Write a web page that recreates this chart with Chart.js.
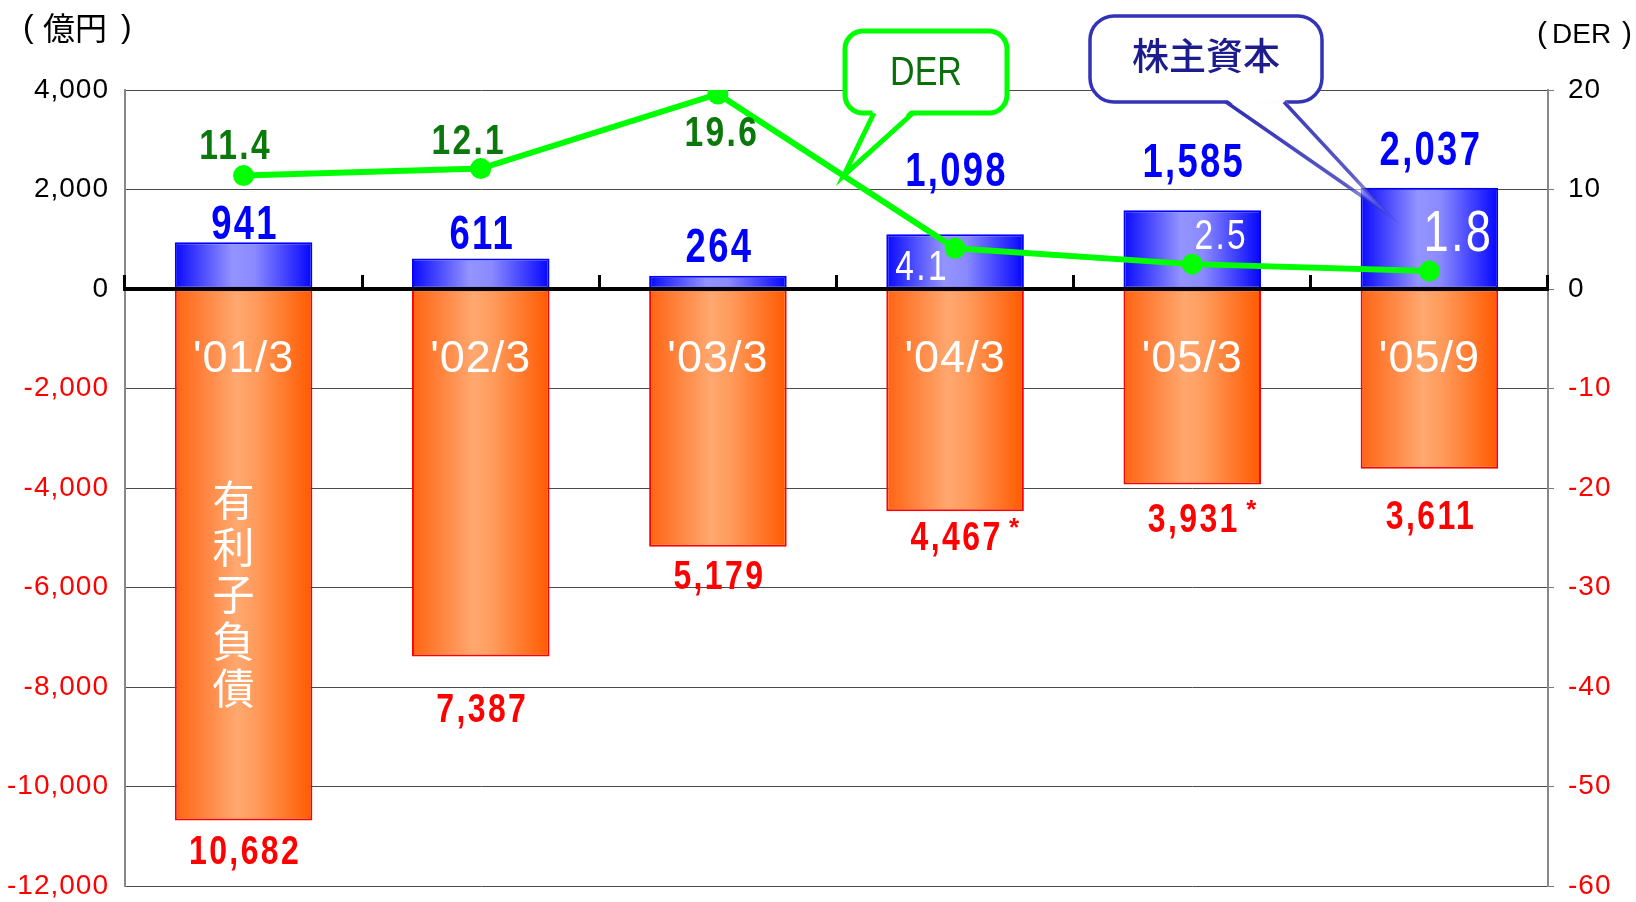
<!DOCTYPE html>
<html lang="ja">
<head>
<meta charset="utf-8">
<script src="https://cdn.jsdelivr.net/npm/chart.js@4.4.1/dist/chart.umd.min.js"></script>
<style>
  html, body { margin: 0; padding: 0; background: #fff; }
  #wrap { width: 1636px; height: 902px; }
</style>
</head>
<body>
<div id="wrap"><canvas id="derChart"></canvas></div>
<script>
// data
const categories = ["'01/3", "'02/3", "'03/3", "'04/3", "'05/3", "'05/9"];
const equity = [941, 611, 264, 1098, 1585, 2037];
const debt = [-10682, -7387, -5179, -4467, -3931, -3611];
const debtNotes = ["", "", "", "*", "*", ""];
const der = [11.4, 12.1, 19.6, 4.1, 2.5, 1.8];
const yenTicks = [4000, 2000, 0, -2000, -4000, -6000, -8000, -10000, -12000];
const derTicks = [20, 10, 0, -10, -20, -30, -40, -50, -60];

const SANS = "'Liberation Sans', Arial, sans-serif";
const CJK = "'Noto Sans CJK JP', sans-serif";
const BAR_PCT = 0.58;

// horizontal shading across each bar
const shade = (stops) => (c) => {
  const xs = c.chart.scales.x;
  const fallback = stops[1][1];
  if (!xs || c.dataIndex === undefined) return fallback;
  const cx = xs.getPixelForValue(c.dataIndex);
  const half = (xs.width / categories.length) * BAR_PCT / 2;
  if (!isFinite(cx) || !isFinite(half) || half <= 0) return fallback;
  const g = c.chart.ctx.createLinearGradient(cx - half, 0, cx + half, 0);
  stops.forEach(([o, col]) => g.addColorStop(o, col));
  return g;
};

const blueStops = [[0, "#0a0aff"], [0.42, "#9494ff"], [0.58, "#8a8aff"], [1, "#0505ff"]];
const orangeStops = [[0, "#ff6412"], [0.45, "#ffa870"], [0.6, "#ff9a5a"], [1, "#ff5a00"]];

const fmt = (v) => Math.abs(v).toLocaleString("en-US");

// text squeezed sideways, the chart uses a narrow face
const squeeze = (ctx, text, x, y, sx) => {
  ctx.save();
  ctx.translate(x, y);
  ctx.scale(sx, 1);
  ctx.fillText(text, 0, 0);
  ctx.restore();
};

// value labels on bars and line
const valueLabels = {
  id: "valueLabels",
  afterDatasetsDraw(chart, args, opts) {
    const { ctx } = chart;
    const eq = chart.getDatasetMeta(0).data;
    const dt = chart.getDatasetMeta(1).data;
    const ln = chart.getDatasetMeta(2).data;
    ctx.save();
    ctx.textAlign = "center";
    ctx.textBaseline = "alphabetic";
    ctx.letterSpacing = "3px";

    ctx.font = `bold 48px ${SANS}`;
    ctx.fillStyle = "#0000ff";
    eq.forEach((bar, i) => {
      squeeze(ctx, fmt(equity[i]), bar.x + 1.5, bar.y - opts.equityGap[i], 0.76);
    });

    ctx.font = `bold 40px ${SANS}`;
    ctx.fillStyle = "#ff0000";
    dt.forEach((bar, i) => {
      const y = bar.y + opts.debtGap[i] + 29;
      const txt = fmt(debt[i]);
      squeeze(ctx, txt, bar.x + 1.5, y, 0.8);
      if (debtNotes[i]) {
        const w = ctx.measureText(txt).width * 0.8;
        ctx.save();
        ctx.font = `bold 26px ${SANS}`;
        ctx.textAlign = "left";
        ctx.fillText(debtNotes[i], bar.x + w / 2 + 8, y - 14);
        ctx.restore();
      }
    });

    ctx.textBaseline = "middle";
    ln.forEach((pt, i) => {
      const [dx, dy] = opts.derOffset[i];
      const white = opts.derColor[i] === "#fff";
      ctx.font = `${white ? "" : "bold "}${opts.derSize[i]}px ${SANS}`;
      ctx.fillStyle = opts.derColor[i];
      squeeze(ctx, der[i].toFixed(1), pt.x + dx, pt.y + dy, 0.78);
    });
    ctx.restore();
  }
};

// callouts, vertical caption and unit labels
const callouts = {
  id: "callouts",
  beforeDraw(chart) {
    chart.ctx.letterSpacing = "1px";
  },
  afterDraw(chart) {
    const { ctx } = chart;
    const ln = chart.getDatasetMeta(2).data;
    const firstDebt = chart.getDatasetMeta(1).data[0];
    ctx.save();
    ctx.letterSpacing = "0px";

    // DER callout
    const tip = {
      x: ln[2].x + (ln[3].x - ln[2].x) * 0.53,
      y: ln[2].y + (ln[3].y - ln[2].y) * 0.53
    };
    ctx.lineWidth = 5;
    ctx.strokeStyle = "#00ff00";
    ctx.fillStyle = "#fff";
    ctx.beginPath();
    ctx.roundRect(845, 31, 162, 82, 18);
    ctx.fill();
    ctx.stroke();
    ctx.beginPath();
    ctx.moveTo(874, 108);
    ctx.lineTo(tip.x, tip.y);
    ctx.lineTo(913, 108);
    ctx.closePath();
    ctx.fill();
    ctx.beginPath();
    ctx.moveTo(874, 113);
    ctx.lineTo(tip.x, tip.y);
    ctx.lineTo(913, 113);
    ctx.stroke();
    ctx.fillStyle = "#0a6e0a";
    ctx.font = `40px ${SANS}`;
    ctx.textAlign = "center";
    ctx.textBaseline = "middle";
    squeeze(ctx, "DER", 926, 74, 0.85);

    // 株主資本 callout
    const tip2 = { x: 1389, y: 215 };
    ctx.lineWidth = 3.5;
    ctx.strokeStyle = "#3333b8";
    ctx.fillStyle = "#fff";
    ctx.beginPath();
    ctx.roundRect(1090, 16, 232, 86, 24);
    ctx.fill();
    ctx.stroke();
    const fade = ctx.createLinearGradient(1255, 102, tip2.x, tip2.y);
    fade.addColorStop(0, "rgba(255,255,255,1)");
    fade.addColorStop(0.6, "rgba(255,255,255,0.9)");
    fade.addColorStop(1, "rgba(255,255,255,0)");
    ctx.fillStyle = fade;
    ctx.beginPath();
    ctx.moveTo(1226, 99);
    ctx.lineTo(tip2.x, tip2.y);
    ctx.lineTo(1284, 99);
    ctx.closePath();
    ctx.fill();
    const edge = ctx.createLinearGradient(1255, 102, tip2.x, tip2.y);
    edge.addColorStop(0, "rgba(51,51,184,1)");
    edge.addColorStop(0.7, "rgba(51,51,184,0.8)");
    edge.addColorStop(1, "rgba(51,51,184,0.2)");
    ctx.strokeStyle = edge;
    ctx.beginPath();
    ctx.moveTo(1226, 102);
    ctx.lineTo(tip2.x, tip2.y);
    ctx.lineTo(1284, 102);
    ctx.stroke();
    ctx.fillStyle = "#1c1c8c";
    ctx.font = `500 37px ${CJK}`;
    ctx.fillText("株主資本", 1206, 56);

    // vertical caption in the first debt bar
    ctx.fillStyle = "#fff";
    ctx.font = `42px ${CJK}`;
    [..."有利子負債"].forEach((ch, i) => {
      ctx.fillText(ch, firstDebt.x - 10, 500 + i * 47);
    });

    // unit labels
    ctx.fillStyle = "#000";
    ctx.textAlign = "left";
    ctx.font = `32px ${SANS}`;
    ctx.fillText("(", 23, 28);
    ctx.fillText(")", 121, 28);
    ctx.font = `32px ${CJK}`;
    ctx.fillText("億円", 43, 28);
    ctx.font = `30px ${SANS}`;
    ctx.fillText("(", 1537, 35);
    ctx.fillText(")", 1622, 35);
    ctx.font = `28px ${SANS}`;
    ctx.fillText("DER", 1552, 35);
    ctx.restore();
  }
};

const config = {
  data: {
    labels: categories,
    datasets: [
      {
        type: "bar",
        label: "株主資本",
        data: equity,
        backgroundColor: shade(blueStops),
        borderColor: "#0000ff",
        borderWidth: 2,
        borderSkipped: false,
        order: 2,
        yAxisID: "y"
      },
      {
        type: "bar",
        label: "有利子負債",
        data: debt,
        backgroundColor: shade(orangeStops),
        borderColor: "#ff0000",
        borderWidth: 2,
        borderSkipped: false,
        order: 2,
        yAxisID: "y"
      },
      {
        type: "line",
        label: "DER",
        data: der,
        borderColor: "#00ff00",
        backgroundColor: "#00ff00",
        borderWidth: 6,
        pointRadius: 10.5,
        pointBorderWidth: 0,
        tension: 0,
        order: 0,
        yAxisID: "y1"
      }
    ]
  },
  options: {
    responsive: true,
    maintainAspectRatio: false,
    animation: false,
    layout: { padding: { top: 90, bottom: 16, left: 0, right: 0 } },
    datasets: {
      bar: { grouped: false, barPercentage: BAR_PCT, categoryPercentage: 1 }
    },
    plugins: {
      legend: { display: false },
      tooltip: { enabled: false },
      valueLabels: {
        equityGap: [3, 10, 14, 48, 33, 23],
        debtGap: [15, 36, 13, 10, 18, 31],
        derOffset: [[-8, -28], [-12, -26], [4, 40], [-33, 20], [29, -27], [29, -36]],
        derSize: [43, 43, 43, 43, 43, 58],
        derColor: ["#0b780b", "#0b780b", "#0b780b", "#fff", "#fff", "#fff"]
      }
    },
    scales: {
      x: {
        position: { y: 0 },
        offset: true,
        grid: {
          display: true,
          drawOnChartArea: false,
          offset: true,
          tickLength: -16,
          tickWidth: 3,
          tickColor: "#000",
          z: 1
        },
        border: { display: true, color: "#000", width: 4, z: 1 },
        ticks: {
          color: "#fff",
          font: { family: SANS, size: 45 },
          padding: 60,
          maxRotation: 0,
          autoSkip: false,
          z: 1
        }
      },
      y: {
        position: "left",
        min: -12000,
        max: 4000,
        afterBuildTicks: (s) => { s.ticks = yenTicks.map((value) => ({ value })); },
        afterFit: (s) => { s.width = 125; s.paddingTop = 0; s.paddingBottom = 0; },
        grid: { color: "#4a4a4a", lineWidth: 1, drawTicks: false },
        border: { color: "#888", width: 2 },
        ticks: {
          font: { family: SANS, size: 28 },
          color: (c) => (c.tick && c.tick.value < 0 ? "#ff0000" : "#000"),
          padding: 16,
          callback: (v) => v.toLocaleString("en-US")
        }
      },
      y1: {
        position: "right",
        min: -60,
        max: 20,
        afterBuildTicks: (s) => { s.ticks = derTicks.map((value) => ({ value })); },
        afterFit: (s) => { s.width = 88; s.paddingTop = 0; s.paddingBottom = 0; },
        grid: { drawOnChartArea: false, color: "#777", tickLength: 6 },
        border: { color: "#888", width: 2 },
        ticks: {
          font: { family: SANS, size: 28 },
          color: (c) => (c.tick && c.tick.value < 0 ? "#ff0000" : "#000"),
          padding: 14
        }
      }
    }
  },
  plugins: [valueLabels, callouts]
};

const derChart = new Chart(document.getElementById("derChart"), config);
derChart.update();
</script>
</body>
</html>
